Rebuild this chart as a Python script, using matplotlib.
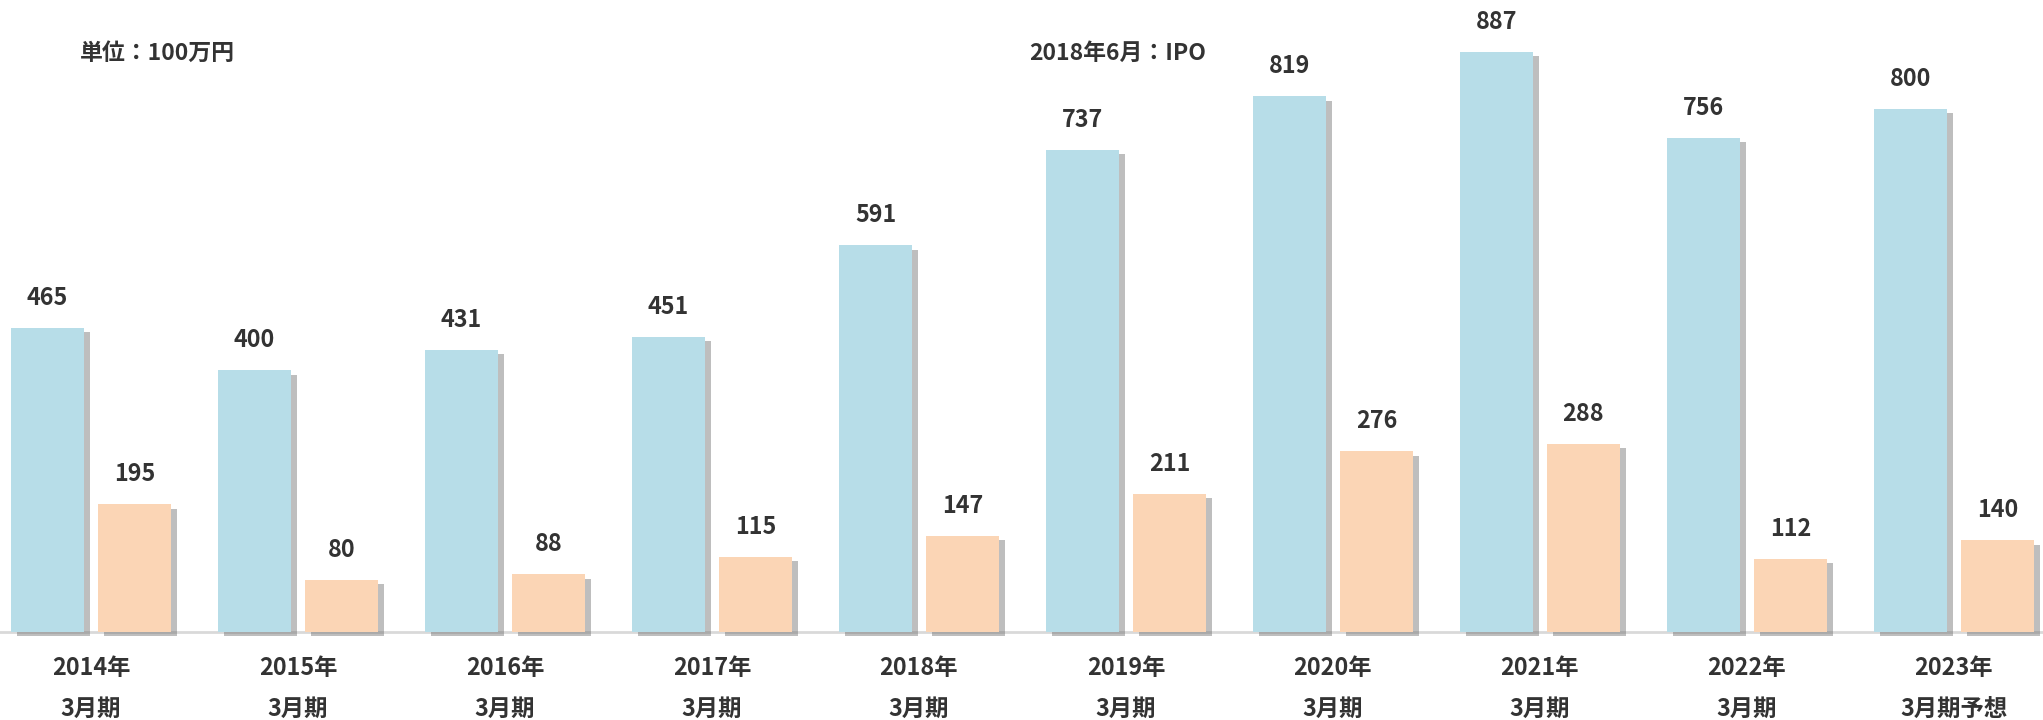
import matplotlib
matplotlib.use("Agg")
import matplotlib.pyplot as plt
import matplotlib.patheffects as pe

plt.rcParams['font.family'] = ['Noto Sans CJK JP', 'DejaVu Sans']

# data
years = ["2014年", "2015年", "2016年", "2017年", "2018年",
         "2019年", "2020年", "2021年", "2022年", "2023年"]
periods = ["3月期"] * 9 + ["3月期予想"]
blue_vals = [465, 400, 431, 451, 591, 737, 819, 887, 756, 800]
orange_vals = [195, 80, 88, 115, 147, 211, 276, 288, 112, 140]

BLUE = "#B7DDE8"
ORANGE = "#FBD5B5"
TEXT = "#333333"

fig = plt.figure(figsize=(20.43, 7.2), dpi=100)
ax = fig.add_axes([0, 0, 1, 1])

# px -> data mapping (group spacing 207px, 0.654px per unit, baseline 88px from bottom)
x = list(range(len(years)))
width = 0.3527
off = 0.21
shadow = [pe.SimplePatchShadow(offset=(4, -3), shadow_rgbFace="#707070", alpha=0.45), pe.Normal()]

b1 = ax.bar([i - off for i in x], blue_vals, width, color=BLUE, zorder=2)
b2 = ax.bar([i + off for i in x], orange_vals, width, color=ORANGE, zorder=2)
for p in list(b1) + list(b2):
    p.set_path_effects(shadow)

# value labels
for i in x:
    ax.text(i - off, blue_vals[i] + 46, str(blue_vals[i]), ha="center", va="center",
            fontsize=16.8, fontweight="bold", color=TEXT)
    ax.text(i + off, orange_vals[i] + 46, str(orange_vals[i]), ha="center", va="center",
            fontsize=16.8, fontweight="bold", color=TEXT)

# category labels, two lines
for i in x:
    ax.text(i, -55, years[i], ha="center", va="center", fontsize=16.8,
            fontweight="bold", color=TEXT)
    ax.text(i, -118, periods[i], ha="center", va="center", fontsize=16.8,
            fontweight="bold", color=TEXT)

ax.axhline(0, color="#D9D9D9", lw=2, zorder=1)

ax.text(-0.053, 885, "単位：100万円", ha="left", va="center", fontsize=16.5,
        fontweight="bold", color=TEXT)
ax.text(4.53, 885, "2018年6月：IPO", ha="left", va="center", fontsize=16.5,
        fontweight="bold", color=TEXT)

ax.set_xlim(-0.4396, 9.43)
ax.set_ylim(-134.6, 966.4)
ax.axis("off")

fig.savefig("out.png", dpi=100, facecolor="white")
